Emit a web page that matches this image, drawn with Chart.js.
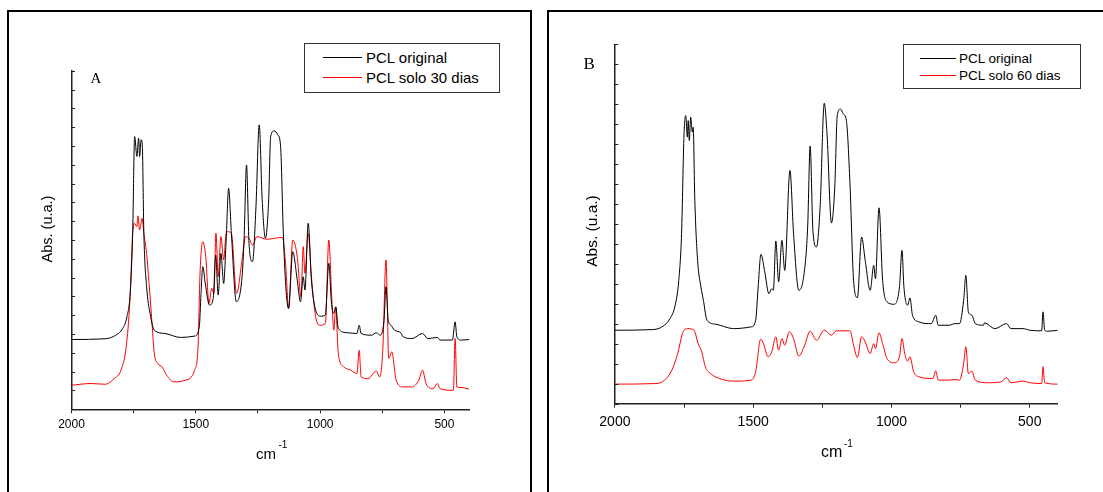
<!DOCTYPE html>
<html>
<head>
<meta charset="utf-8">
<script src="https://cdn.jsdelivr.net/npm/chart.js@4.4.0/dist/chart.umd.min.js"></script>
<style>
  body { margin: 0; width: 1103px; height: 492px; overflow: hidden; background: #fff; position: relative; font-family: "Liberation Sans", Arial, sans-serif; }
  canvas { position: absolute; }
  .frame { position: absolute; height: 600px; border: 2px solid #000; }
  .legend { position: absolute; border: 1px solid #333; box-sizing: border-box; background: #fff; }
  .ll { position: absolute; height: 1px; }
  .lt { position: absolute; color: #000; white-space: nowrap; }
</style>
</head>
<body>
<div class="frame" style="left:7px;top:10px;width:521px;"></div>
<div class="frame" style="left:547px;top:10px;width:600px;"></div>
<canvas id="chartA" width="540" height="492" style="left:0;top:0"></canvas>
<canvas id="chartB" width="555" height="492" style="left:548px;top:0"></canvas>

<div class="legend" style="left:304px;top:43px;width:196px;height:50px;"></div>
<div class="ll" style="left:323px;top:57px;width:39px;background:#000;"></div>
<div class="lt" style="left:366px;top:48.5px;font-size:15px;line-height:18px;">PCL original</div>
<div class="ll" style="left:323px;top:77px;width:39px;background:#f00;"></div>
<div class="lt" style="left:366px;top:68.5px;font-size:15px;line-height:18px;">PCL solo 30 dias</div>

<div class="legend" style="left:903px;top:44px;width:178px;height:45px;"></div>
<div class="ll" style="left:920px;top:58px;width:36px;background:#000;"></div>
<div class="lt" style="left:959px;top:50.5px;font-size:13.5px;line-height:16px;">PCL original</div>
<div class="ll" style="left:920px;top:75px;width:36px;background:#f00;"></div>
<div class="lt" style="left:959px;top:67.5px;font-size:13.5px;line-height:16px;">PCL solo 60 dias</div>

<script>
// Panel A: PCL original / PCL solo 30 dias
const waveA_orig = [2000,1864,1822,1794,1777,1763,1754,1746,1737,1730,1726,1720,1715,1709,1698,1684,1667,1624,1561,1505,
  1486,1479,1472,1462,1445,1430,1420,1410,1399,1388,1378,1368,1357,1337,1314,1306,1296,1286,1272,1258,
  1245,1233,1220,1207,1199,1185,1170,1159,1148,1138,1127,1110,1092,1079,1068,1061,1048,1035,1018,997,
  979,965,955,945,937,927,891,852,843,835,793,774,758,743,735,726,715,701,673,669,
  631,588,567,528,518,468,457,450,433,401];
const absA_orig = [3.71,3.75,3.94,4.30,4.92,6.34,9.36,14.50,13.44,14.41,13.44,14.33,13.97,9.36,6.52,5.10,4.21,4.03,3.82,3.89,
  4.39,6.16,7.58,6.69,5.54,5.89,8.20,6.07,8.29,6.69,9.00,11.75,9.36,5.72,7.05,9.00,12.99,8.82,7.85,10.78,
  15.12,11.13,9.09,11.13,14.50,14.80,14.59,13.97,9.36,6.52,5.36,8.38,6.87,5.72,7.05,6.34,9.89,6.87,5.27,4.95,
  5.01,7.76,5.72,5.10,5.45,4.30,4.07,4.03,4.47,4.03,3.94,4.07,3.94,4.74,6.52,4.74,4.47,4.21,4.03,3.89,
  3.76,4.03,3.76,3.82,3.68,3.68,4.65,3.85,3.68,3.71];
const waveA_30d = [2000,1921,1864,1829,1801,1780,1765,1754,1747,1737,1733,1726,1716,1709,1698,1688,1678,1667,1653,1636,
  1617,1589,1540,1505,1491,1483,1472,1460,1447,1436,1427,1419,1410,1399,1388,1378,1371,1357,1336,1314,
  1300,1286,1272,1254,1216,1152,1138,1127,1110,1092,1077,1068,1061,1048,1035,1018,1001,979,965,954,
  945,937,927,905,877,852,843,835,807,774,761,748,735,724,712,694,666,631,603,588,
  574,546,528,518,464,457,450,433,401];
const absA_30d = [1.28,1.37,1.33,1.63,2.08,3.32,5.81,9.36,9.89,9.71,10.28,9.53,10.15,9.36,8.29,6.69,4.92,2.97,2.43,2.26,
  1.81,1.46,1.55,2.08,3.32,7.23,8.91,8.11,5.63,6.43,6.16,9.36,7.05,9.18,7.94,9.36,9.44,9.36,6.16,7.94,
  9.18,9.09,8.73,9.18,9.04,9.14,7.58,5.36,9.00,8.11,5.98,8.65,7.23,9.36,7.05,4.92,4.47,4.56,9.00,6.16,
  4.21,5.42,2.97,2.26,2.08,1.90,3.14,1.72,1.63,2.04,1.72,3.14,7.94,2.70,3.05,1.55,1.19,1.19,1.55,2.08,
  1.37,1.10,1.37,1.10,1.01,3.76,1.19,1.16,1.07];

// Panel B: PCL original / PCL solo 60 dias
const waveB_orig = [2000,1865,1826,1801,1782,1769,1759,1750,1744,1738,1735,1731,1726,1720,1717,1711,1701,1689,1680,1667,
  1635,1571,1507,1491,1482,1472,1459,1443,1433,1427,1418,1408,1396,1386,1367,1354,1335,1316,1303,1294,
  1284,1271,1258,1243,1233,1217,1205,1196,1184,1174,1163,1150,1137,1123,1108,1095,1077,1064,1058,1045,
  1032,1016,990,971,962,955,942,933,924,901,856,840,831,792,770,754,739,731,722,709,
  697,667,664,626,584,568,524,500,457,452,446,435,397];
const absB_orig = [3.68,3.71,3.88,4.26,4.93,6.18,8.51,13.51,14.43,13.35,14.18,13.18,14.35,13.60,13.85,10.18,7.18,5.85,5.18,4.18,
  3.98,3.76,3.85,4.18,5.85,7.48,6.68,5.51,5.76,5.68,8.15,6.10,8.18,6.68,11.68,8.51,5.68,6.51,8.85,12.90,
  8.68,7.85,9.85,15.05,13.51,9.05,10.85,14.43,14.76,14.51,14.18,11.01,6.18,5.31,8.35,7.18,5.68,6.93,6.26,9.81,
  6.18,5.10,4.98,5.85,7.68,5.85,4.93,5.30,4.43,4.10,4.01,4.43,3.93,3.93,4.01,4.01,5.18,6.43,4.60,4.43,
  4.01,3.93,4.05,3.76,4.01,3.76,3.76,3.68,3.65,4.60,3.68,3.63,3.68];
const waveB_60d = [2000,1852,1820,1794,1773,1756,1750,1737,1714,1699,1686,1673,1654,1622,1571,1507,1491,1473,1463,1446,
  1433,1418,1408,1396,1386,1369,1354,1335,1316,1294,1271,1243,1217,1200,1150,1137,1123,1108,1095,1077,
  1064,1058,1045,1032,1016,990,971,962,952,942,933,920,901,850,840,831,792,770,754,739,
  731,722,709,697,652,603,584,568,524,500,457,452,446,397];
const absB_60d = [0.98,1.01,1.18,1.68,2.51,3.51,3.68,3.76,3.68,3.01,2.60,1.85,1.51,1.26,1.13,1.18,1.60,3.23,3.01,2.35,
  2.60,3.35,2.68,3.26,2.93,3.60,3.26,2.38,2.85,3.63,3.18,3.68,3.43,3.65,3.65,2.93,2.31,3.35,3.10,2.51,
  3.01,2.76,3.55,3.01,2.26,2.05,2.35,3.26,2.51,2.13,2.35,1.60,1.35,1.26,1.65,1.18,1.18,1.21,1.18,2.01,
  2.85,1.51,1.63,1.18,1.05,1.10,1.30,1.05,1.13,1.05,1.01,1.85,1.05,0.98];

// axis ticks
const xMajor = [2000, 1500, 1000, 500];
const xMinor = [1750, 1250, 750];
const yTickValues = [0,1,2,3,4,5,6,7,8,9,10,11,12,13,14,15,16,17,18];

function pts(xs, ys) {
  return xs.map((x, i) => ({x: x, y: ys[i]}));
}

// inner y ticks, panel letter, axis titles
const decor = {
  id: 'decor',
  afterDraw(chart, args, o) {
    const ctx = chart.ctx, a = chart.chartArea, y = chart.scales.y;
    ctx.save();
    ctx.strokeStyle = '#222';
    ctx.lineWidth = 1;
    y.ticks.forEach(t => {
      const py = Math.round(y.getPixelForValue(t.value)) + 0.5;
      ctx.beginPath();
      ctx.moveTo(a.left, py);
      ctx.lineTo(a.left + 3.5, py);
      ctx.stroke();
    });
    ctx.fillStyle = '#000';
    ctx.textAlign = 'left';
    ctx.textBaseline = 'alphabetic';
    ctx.font = o.letterFont;
    ctx.fillText(o.letter, o.letterX, o.letterY);
    ctx.font = o.xFont;
    ctx.fillText('cm', o.cmX, o.cmY);
    ctx.font = '10px "Liberation Sans"';
    ctx.fillText('-1', o.supX, o.supY);
    ctx.translate(o.yTitleX, o.yTitleY);
    ctx.rotate(-Math.PI / 2);
    ctx.textAlign = 'center';
    ctx.textBaseline = 'middle';
    ctx.font = o.yFont;
    ctx.fillText('Abs. (u.a.)', 0, 0);
    ctx.restore();
  }
};

function makeChart(id, s) {
  return new Chart(document.getElementById(id), {
    type: 'line',
    data: {
      datasets: [
        { label: 'PCL original', data: pts(s.w1, s.a1), borderColor: '#000', borderWidth: 1, pointRadius: 0, cubicInterpolationMode: 'monotone' },
        { label: s.label2, data: pts(s.w2, s.a2), borderColor: '#ff0000', borderWidth: 1, pointRadius: 0, cubicInterpolationMode: 'monotone' }
      ]
    },
    options: {
      responsive: false,
      animation: false,
      layout: { padding: { left: 0, top: s.top, right: s.right, bottom: 0 } },
      plugins: {
        legend: { display: false },
        tooltip: { enabled: false },
        decor: s.decor
      },
      scales: {
        x: {
          type: 'linear', reverse: true, min: 400, max: 2000,
          afterBuildTicks: sc => { sc.ticks = xMajor.concat(xMinor).sort((p, q) => q - p).map(v => ({value: v})); },
          afterFit: sc => { sc.height = s.xh; },
          grid: { drawOnChartArea: false, drawTicks: true, tickLength: 4, color: '#222', tickWidth: 1 },
          border: { color: '#222', width: 1.5 },
          ticks: {
            autoSkip: false, maxRotation: 0, padding: s.tickPad, color: '#000',
            font: { family: 'Liberation Sans', size: s.tickSize },
            callback: v => xMajor.includes(v) ? String(v) : ''
          }
        },
        y: {
          min: 0, max: 18,
          afterBuildTicks: sc => { sc.ticks = yTickValues.map(v => ({value: v})); },
          afterFit: sc => { sc.width = s.yw; },
          grid: { display: false },
          border: { color: '#222', width: 1.5 },
          ticks: { display: false }
        }
      }
    },
    plugins: [decor]
  });
}

makeChart('chartA', {
  w1: waveA_orig, a1: absA_orig, w2: waveA_30d, a2: absA_30d, label2: 'PCL solo 30 dias',
  top: 70.7, right: 70.7, xh: 82.7, yw: 71.5, tickPad: 4, tickSize: 12,
  decor: { letter: 'A', letterFont: '15px "Liberation Serif"', letterX: 90.5, letterY: 82.5,
    xFont: '15px "Liberation Sans"', cmX: 256, cmY: 459, supX: 278.5, supY: 448,
    yFont: '14.5px "Liberation Sans"', yTitleX: 48, yTitleY: 229 }
});

makeChart('chartB', {
  w1: waveB_orig, a1: absB_orig, w2: waveB_60d, a2: absB_60d, label2: 'PCL solo 60 dias',
  top: 44.3, right: 45.6, xh: 88.3, yw: 66.9, tickPad: 6, tickSize: 14,
  decor: { letter: 'B', letterFont: '17px "Liberation Serif"', letterX: 35.6, letterY: 69,
    xFont: '16px "Liberation Sans"', cmX: 273, cmY: 457, supX: 296, supY: 447,
    yFont: '15.5px "Liberation Sans"', yTitleX: 45, yTitleY: 231 }
});
</script>
</body>
</html>
